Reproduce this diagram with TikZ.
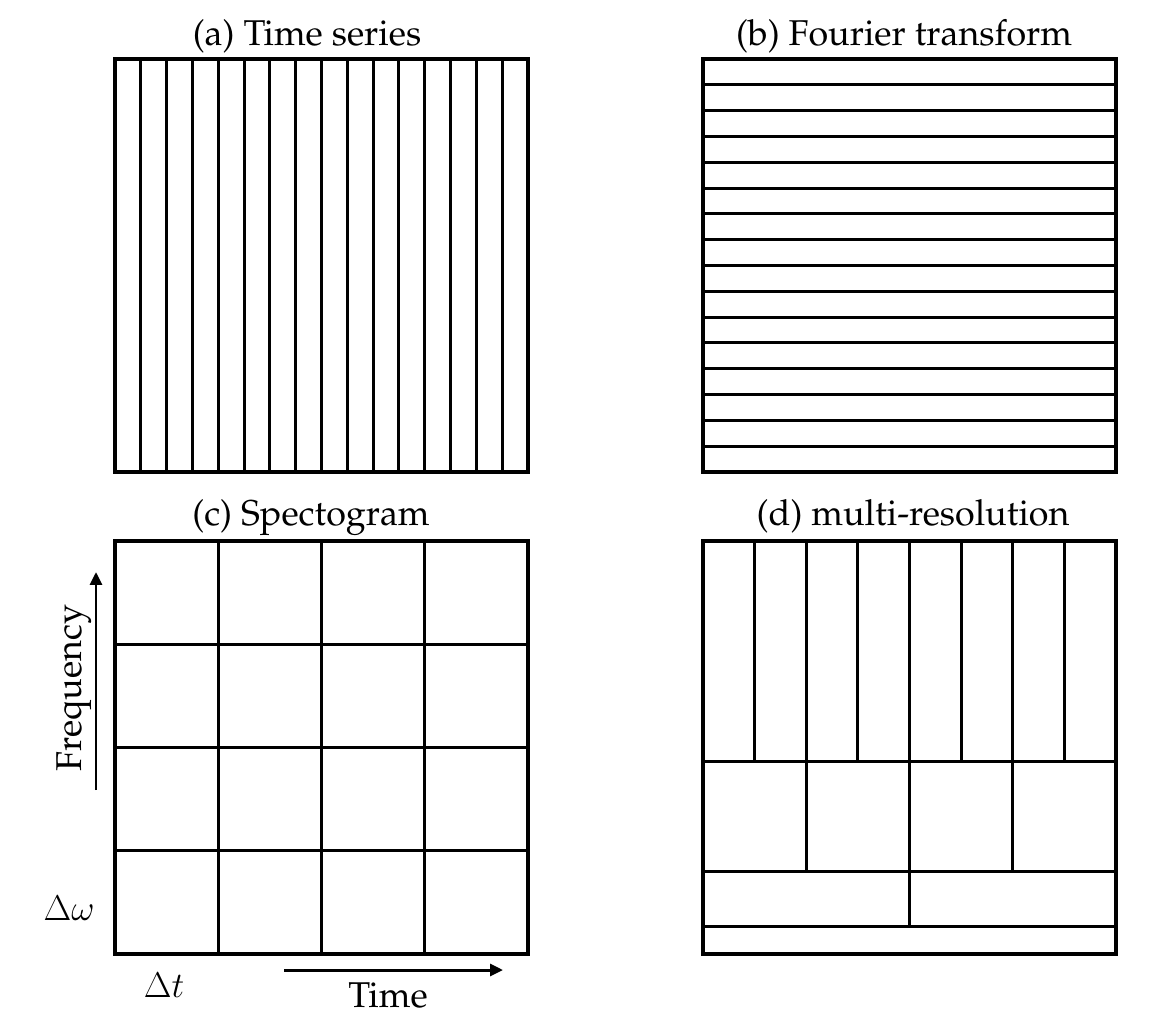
\RequirePackage{fix-cm}
\documentclass[tikz,border=0pt]{standalone}
\usepackage[T1]{fontenc}
\usepackage{palatino}
\usetikzlibrary{arrows.meta}
\tikzset{
  grid/.style={line width=3.1pt, line cap=rect},
  lab/.style={font=\fontsize{36}{40}\selectfont, inner sep=0pt, anchor=base},
  axarrow/.style={line width=3pt, -{Triangle[length=13pt,width=12pt]}}
}
\begin{document}
\begin{tikzpicture}[x=1bp,y=-1bp]
\useasboundingbox (0,0) rectangle (1160,1017);
% (a)
\foreach \k in {1,...,15} \draw[grid] ({115+\k*413/16},59) -- ({115+\k*413/16},472);
\draw[grid] (115,59) rectangle (528,472);
% (b)
\foreach \k in {1,...,15} \draw[grid] (703,{59+\k*413/16}) -- (1116,{59+\k*413/16});
\draw[grid] (703,59) rectangle (1116,472);
% (c)
\foreach \k in {1,2,3} {
  \draw[grid] ({115+\k*413/4},541) -- ({115+\k*413/4},954);
  \draw[grid] (115,{541+\k*413/4}) -- (528,{541+\k*413/4});
}
\draw[grid] (115,541) rectangle (528,954);
% (d)
\pgfmathsetmacro{\ua}{541+8*413/15}
\pgfmathsetmacro{\ub}{541+12*413/15}
\pgfmathsetmacro{\uc}{541+14*413/15}
\foreach \k in {1,...,7} \draw[grid] ({703+\k*413/8},541) -- ({703+\k*413/8},\ua);
\foreach \k in {1,2,3} \draw[grid] ({703+\k*413/4},\ua) -- ({703+\k*413/4},\ub);
\draw[grid] ({703+413/2},\ub) -- ({703+413/2},\uc);
\draw[grid] (703,\ua) -- (1116,\ua);
\draw[grid] (703,\ub) -- (1116,\ub);
\draw[grid] (703,\uc) -- (1116,\uc);
\draw[grid] (703,541) rectangle (1116,954);
% titles
\node[lab] (ta) at (307,45) {(a) Time series};
\node[lab] (tb) at (904,45) {(b) Fourier transform};
\node[lab] (tc) at (311,525) {(c) Spectogram};
\node[lab] (td) at (913,525) {(d) multi-resolution};
% axes
\coordinate (f0) at (96,790);
\coordinate (f1) at (96,572);
\draw[axarrow] (f0) -- (f1);
\node[lab, rotate=90] (freq) at (81,688) {Frequency};
\coordinate (t0) at (284,970);
\coordinate (t1) at (503,970);
\draw[axarrow] (t0) -- (t1);
\node[lab] (time) at (388,1007) {Time};
\node[lab] (dw) at (69,920) {$\Delta\omega$};
\node[lab] (dt) at (164,997) {$\Delta t$};
\end{tikzpicture}
\end{document}
